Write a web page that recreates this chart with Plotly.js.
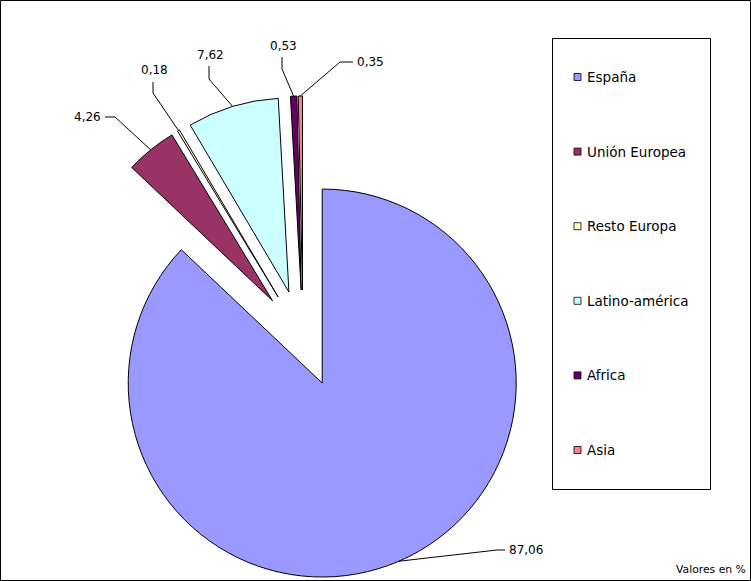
<!DOCTYPE html>
<html><head><meta charset="utf-8">
<script src="https://cdn.plot.ly/plotly-3.0.1.min.js"></script>
<style>html,body{margin:0;padding:0;background:#fff}#chart{width:751px;height:581px}</style>
</head><body><div id="chart"></div>
<script>
// ---- data ----
const categories = ['España', 'Unión Europea', 'Resto Europa', 'Latino-américa', 'Africa', 'Asia'];
const values = [87.06, 4.26, 0.18, 7.62, 0.53, 0.35];
const colors = ['#9999FF', '#993366', '#FFFFCC', '#CCFFFF', '#660066', '#FF8080'];
const noteText = 'Valores en %';

// ---- layout constants (pixels) ----
const W = 751, H = 581;
const PULL = 0.25;
const DOMX = [0.0806, 0.7264], DOMY = [0, 0.8348];
const LABEL_POS = [
  {tx: 507, ty: 550, anchor: 'left',   elbow: [497, 550], end: [505, 550]},
  {tx: 103, ty: 117, anchor: 'right',  elbow: [115, 117], end: [105, 117]},
  {tx: 154, ty: 70,  anchor: 'center', elbow: [153, 93],  end: [153, 82]},
  {tx: 211, ty: 55,  anchor: 'center', elbow: [209, 79],  end: [209, 66]},
  {tx: 283, ty: 46,  anchor: 'center', elbow: [282, 69],  end: [282, 57]},
  {tx: 355, ty: 62,  anchor: 'left',   elbow: [340, 62],  end: [353, 62]}
];
const LEG = {x0: 552.5, y0: 38.5, x1: 710.5, y1: 489.5, sx: 574, sz: 7, tx: 585, y: 77, dy: 74.6};

const px = x => x / W;
const py = y => 1 - y / H;
const fmt = v => v.toFixed(2).replace('.', ',');

function buildOverlay(cx, cy, r) {
  const total = values.reduce((a, b) => a + b, 0);
  const shapes = [], annotations = [];
  let cum = 0;
  values.forEach((v, i) => {
    const th = 2 * Math.PI * (cum + v / 2) / total;
    cum += v;
    const R = r * (1 + PULL);
    const ex = cx + Math.sin(th) * R, ey = cy - Math.cos(th) * R;
    const L = LABEL_POS[i];
    shapes.push({type: 'path', xref: 'paper', yref: 'paper',
      path: `M${px(ex)},${py(ey)} L${px(L.elbow[0])},${py(L.elbow[1])} L${px(L.end[0])},${py(L.end[1])}`,
      line: {color: '#000', width: 1}});
    annotations.push({xref: 'paper', yref: 'paper', x: px(L.tx), y: py(L.ty), xanchor: L.anchor, yanchor: 'middle',
      text: fmt(v), showarrow: false, font: {family: 'DejaVu Sans', size: 12, color: '#000'}});
  });
  // legend
  shapes.push({type: 'rect', xref: 'paper', yref: 'paper', x0: px(LEG.x0), x1: px(LEG.x1), y0: py(LEG.y0), y1: py(LEG.y1),
    line: {color: '#000', width: 1}, fillcolor: 'rgba(0,0,0,0)'});
  categories.forEach((c, i) => {
    const yc = LEG.y + i * LEG.dy;
    shapes.push({type: 'rect', xref: 'paper', yref: 'paper',
      x0: px(LEG.sx), x1: px(LEG.sx + LEG.sz), y0: py(yc - LEG.sz / 2), y1: py(yc + LEG.sz / 2),
      fillcolor: colors[i], line: {color: '#000', width: 0.8}});
    annotations.push({xref: 'paper', yref: 'paper', x: px(LEG.tx), y: py(yc), xanchor: 'left', yanchor: 'middle',
      text: c, showarrow: false, font: {family: 'DejaVu Sans', size: 13.5, color: '#000'}});
  });
  // note
  annotations.push({xref: 'paper', yref: 'paper', x: px(748), y: py(569), xanchor: 'right', yanchor: 'middle',
    text: noteText, showarrow: false, font: {family: 'DejaVu Sans', size: 10.8, color: '#000'}});
  // outer border
  shapes.push({type: 'rect', xref: 'paper', yref: 'paper', x0: px(0.5), x1: px(750.5), y0: py(0.5), y1: py(580.5),
    line: {color: '#000', width: 1}, fillcolor: 'rgba(0,0,0,0)'});
  return {shapes, annotations};
}

// geometry mirroring plotly's pie scaling
const boxW = (DOMX[1] - DOMX[0]) * W, boxH = (DOMY[1] - DOMY[0]) * H;
const r0 = Math.min(boxW, boxH) / (2 + 2 * PULL);
const cx0 = W * (DOMX[0] + DOMX[1]) / 2;
const cy0 = H * (1 - DOMY[0]) - boxH / 2;
const ov = buildOverlay(cx0, cy0, r0);

const trace = {
  type: 'pie', labels: categories, values: values, sort: false, direction: 'clockwise', rotation: 0,
  pull: values.map(() => PULL), marker: {colors: colors, line: {color: '#000', width: 1}},
  textinfo: 'none', showlegend: false, domain: {x: DOMX, y: DOMY}
};
const layout = {
  width: W, height: H, margin: {l: 0, r: 0, t: 0, b: 0}, paper_bgcolor: '#fff', plot_bgcolor: '#fff',
  showlegend: false, separators: ',.', font: {family: 'DejaVu Sans'},
  shapes: ov.shapes, annotations: ov.annotations
};
Plotly.newPlot('chart', [trace], layout, {displayModeBar: false, staticPlot: true}).then(gd => {
  try {
    const cd0 = gd.calcdata[0][0];
    if (cd0 && isFinite(cd0.cx) && isFinite(cd0.r) &&
        (Math.abs(cd0.cx - cx0) > 0.5 || Math.abs(cd0.cy - cy0) > 0.5 || Math.abs(cd0.r - r0) > 0.5)) {
      const o2 = buildOverlay(cd0.cx, cd0.cy, cd0.r);
      Plotly.relayout(gd, {shapes: o2.shapes, annotations: o2.annotations});
    }
  } catch (e) {}
});
</script></body></html>
